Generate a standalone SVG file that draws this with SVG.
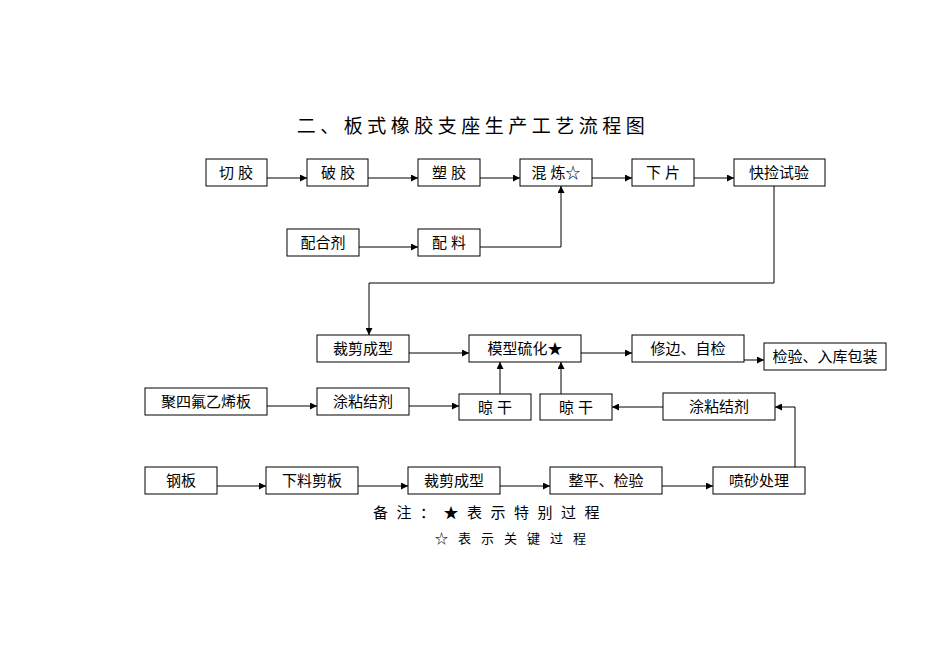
<svg xmlns="http://www.w3.org/2000/svg" width="950" height="672" viewBox="0 0 950 672">
<defs>
<style>
rect{fill:#fff;stroke:#000;stroke-width:1}
text{font-family:"Liberation Sans","Noto Sans CJK SC",sans-serif;font-size:15px;text-anchor:middle;dominant-baseline:central;fill:#000}
.c path{fill:none;stroke:#000;stroke-width:1;marker-end:url(#a)}
</style>
<marker id="a" viewBox="0 0 10 10" refX="10" refY="5" markerWidth="7" markerHeight="7" orient="auto" markerUnits="userSpaceOnUse"><path d="M0,0L10,5L0,10z" fill="#000"/></marker>
</defs>
<rect x="0" y="0" width="950" height="672" style="stroke:none"/>
<text x="473" y="126" style="font-size:19px;letter-spacing:4.5px">二、板式橡胶支座生产工艺流程图</text>
<g id="n1"><rect x="206" y="159" width="61" height="27"/><text x="236" y="172">切 胶</text></g>
<g id="n2"><rect x="307" y="159" width="61" height="27"/><text x="338" y="172">破 胶</text></g>
<g id="n3"><rect x="418" y="159" width="62" height="27"/><text x="449" y="172">塑 胶</text></g>
<g id="n4"><rect x="520" y="159" width="72" height="27"/><text x="556" y="172">混 炼☆</text></g>
<g id="n5"><rect x="632" y="159" width="62" height="27"/><text x="663" y="172">下 片</text></g>
<g id="n6"><rect x="734" y="159" width="91" height="27"/><text x="779" y="172">快捡试验</text></g>
<g id="n7"><rect x="287" y="229" width="72" height="27"/><text x="323" y="242">配合剂</text></g>
<g id="n8"><rect x="418" y="229" width="62" height="27"/><text x="449" y="242">配 料</text></g>
<g id="n9"><rect x="317" y="335" width="92" height="27"/><text x="363" y="348">裁剪成型</text></g>
<g id="n10"><rect x="469" y="335" width="112" height="27"/><text x="525" y="348">模型硫化★</text></g>
<g id="n11"><rect x="632" y="335" width="112" height="27"/><text x="688" y="348">修边、自检</text></g>
<g id="n12"><rect x="764" y="343" width="122" height="27"/><text x="825" y="356">检验、入库包装</text></g>
<g id="n13"><rect x="145" y="388" width="122" height="27"/><text x="206" y="401">聚四氟乙烯板</text></g>
<g id="n14"><rect x="317" y="388" width="92" height="27"/><text x="363" y="401">涂粘结剂</text></g>
<g id="n15"><rect x="459" y="394" width="72" height="26"/><text x="495" y="407">晾 干</text></g>
<g id="n16"><rect x="540" y="394" width="72" height="26"/><text x="576" y="407">晾 干</text></g>
<g id="n17"><rect x="663" y="393" width="112" height="27"/><text x="719" y="406">涂粘结剂</text></g>
<g id="n18"><rect x="145" y="467" width="72" height="27"/><text x="181" y="480">钢板</text></g>
<g id="n19"><rect x="266" y="467" width="92" height="27"/><text x="312" y="480">下料剪板</text></g>
<g id="n20"><rect x="408" y="467" width="92" height="27"/><text x="454" y="480">裁剪成型</text></g>
<g id="n21"><rect x="550" y="467" width="112" height="27"/><text x="606" y="480">整平、检验</text></g>
<g id="n22"><rect x="713" y="467" width="92" height="27"/><text x="759" y="480">喷砂处理</text></g>
<g class="c">
<path d="M267,178H307"/><path d="M368,178H418"/><path d="M480,178H520"/><path d="M592,178H632"/><path d="M694,178H734"/>
<path d="M359,247H418"/><path d="M480,247H561V186"/>
<path d="M774,186V283H369V335"/>
<path d="M409,353H469"/><path d="M581,353H632"/><path d="M744,360H764"/>
<path d="M267,406H317"/><path d="M409,406H459"/>
<path d="M500,394V362"/><path d="M561,394V362"/>
<path d="M663,407H612"/><path d="M795,467V407H775"/>
<path d="M217,486H266"/><path d="M358,486H408"/><path d="M500,486H550"/><path d="M662,486H713"/>
</g>
<text x="373" y="512" style="text-anchor:start;letter-spacing:8.5px">备注：★表示特别过程</text>
<text x="435" y="538" style="text-anchor:start;font-size:13px;letter-spacing:10px">☆表示关键过程</text>
</svg>
